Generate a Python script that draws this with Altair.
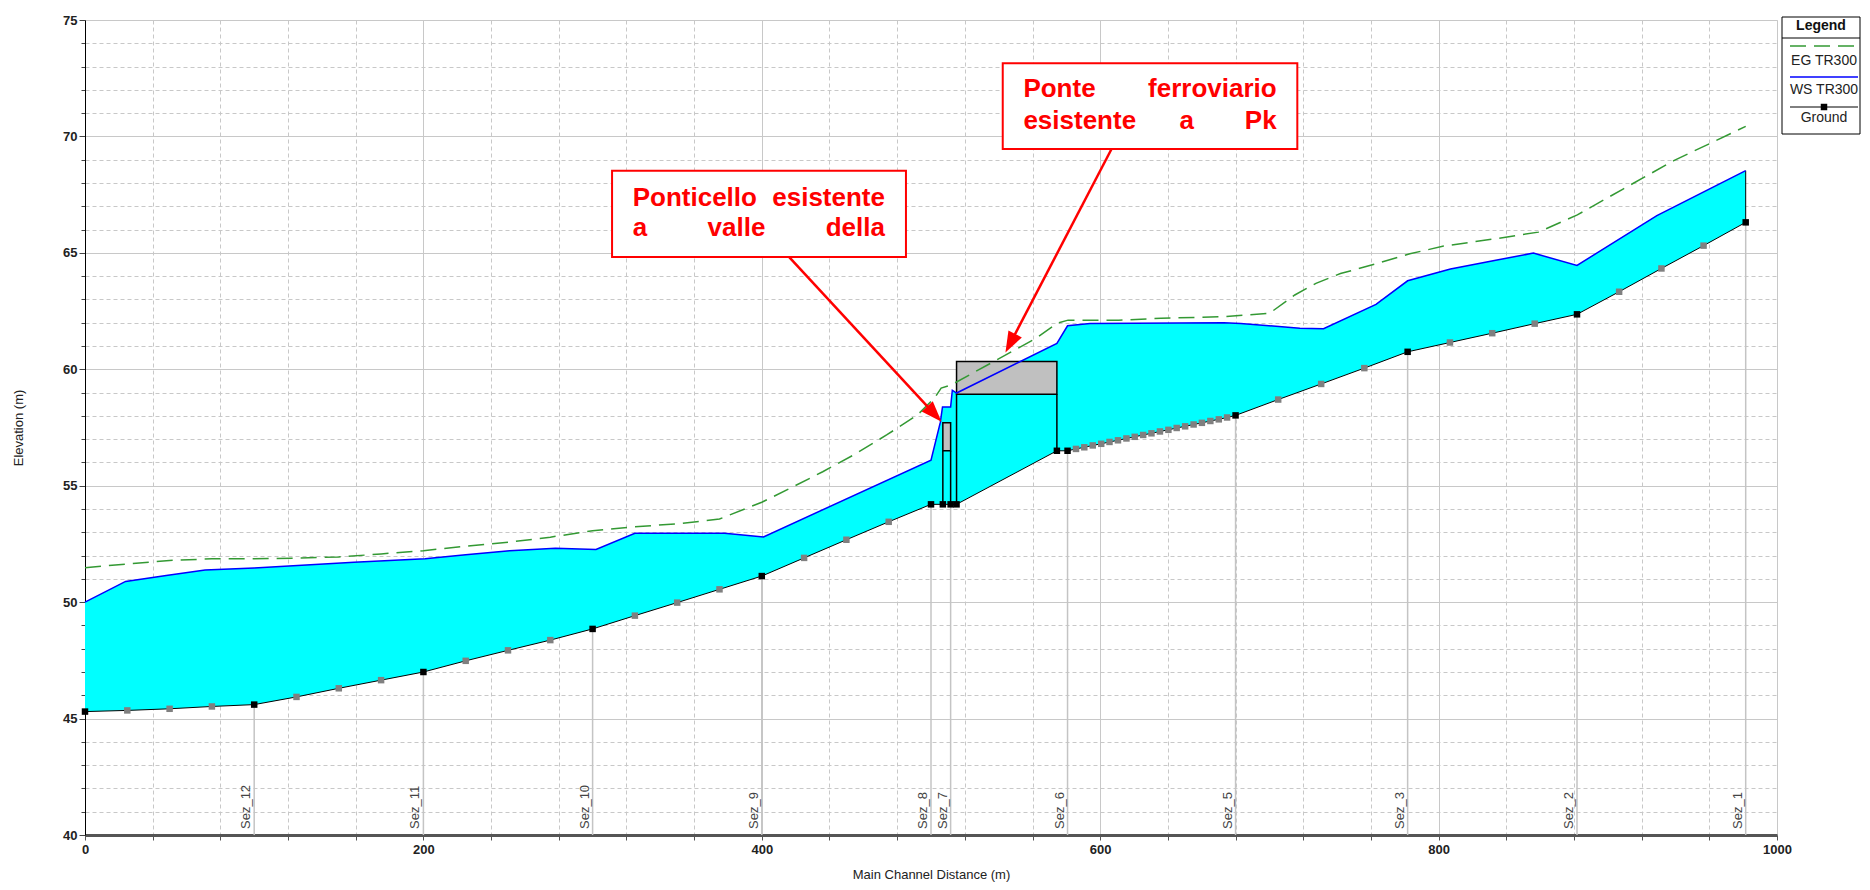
import math
import numpy as np
import pandas as pd
import altair as alt

# ---------------- data ----------------
# surveyed cross sections (black squares on the ground line)
sta_x = [0, 100, 200, 300, 400, 500, 507.0, 511.6, 515.1, 574.4, 580.7, 680, 781.7, 881.8, 981.5]
sta_z = [45.3, 45.6, 47.0, 48.85, 51.12, 54.2, 54.2, 54.2, 54.2, 56.5, 56.5, 58.02, 60.75, 62.36, 66.31]

# interpolated cross sections (grey squares)
int_x = [25, 50, 75, 125, 150, 175, 225, 250, 275, 325, 350, 375, 425, 450, 475,
         585.7, 590.6, 595.6, 600.6, 605.5, 610.5, 615.5, 620.4, 625.4, 630.3,
         635.3, 640.3, 645.2, 650.2, 655.2, 660.1, 665.1, 670.1, 675.0,
         705.2, 730.6, 756.1, 806.7, 831.7, 856.8, 906.7, 931.7, 956.6]
int_z = [45.35, 45.42, 45.52, 45.93, 46.3, 46.65, 47.48, 47.93, 48.37, 49.42, 49.98, 50.55,
         51.9, 52.68, 53.45,
         56.58, 56.65, 56.73, 56.8, 56.88, 56.95, 57.03, 57.1, 57.18, 57.25,
         57.33, 57.4, 57.48, 57.55, 57.63, 57.7, 57.78, 57.85, 57.93,
         58.7, 59.37, 60.05, 61.15, 61.55, 61.96, 63.33, 64.33, 65.31]

# water surface TR300
ws_x = [0, 24, 48, 71, 100, 159, 201, 225, 251, 278, 302, 325, 378, 401, 500, 505.5, 506.8,
        511.6, 512.6, 515.1, 574.4, 580.7, 594, 673, 683, 718, 732, 763, 781.7, 807, 833,
        856, 881.8, 929, 981.5]
ws_z = [50.0, 50.89, 51.14, 51.38, 51.47, 51.71, 51.86, 52.04, 52.21, 52.31, 52.26, 52.96,
        52.96, 52.8, 56.1, 57.72, 58.38, 58.38, 59.1, 58.98, 61.11, 61.87, 61.97, 62.0, 61.97,
        61.76, 61.74, 62.79, 63.8, 64.31, 64.67, 64.99, 64.46, 66.6, 68.53]

# energy grade line TR300
eg_x = [0, 25, 50, 75, 100, 125, 150, 175, 200, 225, 250, 275, 300, 325, 350, 375, 400, 417,
        436, 455, 474, 492, 502, 506, 512, 537, 562, 574.4, 581, 611, 636, 673, 700, 715,
        727.5, 742, 763, 783, 803, 833, 859, 882, 909, 939, 981.5]
eg_z = [51.48, 51.64, 51.79, 51.86, 51.86, 51.89, 51.94, 52.07, 52.21, 52.4, 52.57, 52.79,
        53.07, 53.24, 53.36, 53.57, 54.29, 54.9, 55.6, 56.35, 57.19, 58.04, 58.76, 59.19,
        59.33, 60.33, 61.33, 61.97, 62.11, 62.11, 62.19, 62.26, 62.4, 63.19, 63.69, 64.11,
        64.53, 64.96, 65.29, 65.6, 65.89, 66.63, 67.74, 68.96, 70.43]

# bridges: decks and piers
deck_x1 = [507.0, 515.1]
deck_x2 = [511.6, 574.4]
deck_lo = [56.5, 58.93]
deck_hi = [57.7, 60.33]
pier_x = [507.0, 511.6, 515.1, 574.4]
pier_bot = [54.2, 54.2, 54.2, 56.5]
pier_top = [56.5, 56.5, 58.93, 58.93]

# section labels
lab_x = [100, 200, 300, 400, 500, 511.6, 580.7, 680, 781.7, 881.8, 981.5]
lab_t = ["Sez_12", "Sez_11", "Sez_10", "Sez_9", "Sez_8", "Sez_7", "Sez_6", "Sez_5",
         "Sez_3", "Sez_2", "Sez_1"]

# annotation boxes
box_x1 = [311.5, 542.4]
box_x2 = [485.2, 716.5]
box_y1 = [64.82, 69.46]
box_y2 = [68.53, 73.14]
ann_words = ["Ponticello", "esistente", "a", "valle", "della",
             "Ponte", "ferroviario", "esistente", "a", "Pk"]
ann_wx = [323.7, 472.8, 323.7, 385.0, 472.8, 554.6, 704.3, 554.6, 651.1, 704.3]
ann_wy = [67.01, 67.01, 65.73, 65.73, 65.73, 71.71, 71.71, 70.31, 70.31, 70.31]
ann_align = ["left", "right", "left", "center", "right",
             "left", "right", "left", "center", "right"]
arr_x0 = [416.2, 606.7]
arr_y0 = [64.82, 69.46]
arr_x1 = [506.2, 544.0]
arr_y1 = [57.75, 60.72]

# ---------------- geometry / styles ----------------
W, H = 1692, 815
PX_X = W / 1000.0
PX_Y = H / 35.0
FONT = "Liberation Sans"
RED = "#ff0000"
GREEN = "#339933"

xscale = alt.Scale(domain=[0, 1000], nice=False, zero=False)
yscale = alt.Scale(domain=[40, 75], nice=False, zero=False)

xaxis = alt.Axis(
    title="Main Channel Distance (m)",
    values=list(range(0, 1001, 40)),
    format="d",
    labelExpr="datum.value % 200 === 0 ? datum.label : ''",
    labelFlush=False, labelOverlap=False, labelBound=False,
    grid=True, gridColor="#c8c8c8", gridWidth=1,
    gridDash={"condition": {"test": "datum.value % 200 === 0", "value": []}, "value": [4, 3]},
    domainColor="#555555", domainWidth=3,
    tickColor="#555555", tickSize=5, tickWidth=1,
    labelFont=FONT, labelFontSize=13, labelFontWeight="bold", labelColor="#222222", labelPadding=3,
    titleFont=FONT, titleFontSize=13, titleFontWeight="normal", titleColor="#222222",
    titleY=39, titleBaseline="middle",
)
yaxis = alt.Axis(
    title="Elevation (m)",
    values=list(range(40, 76)),
    format="d",
    labelExpr="datum.value % 5 === 0 ? datum.label : ''",
    labelOverlap=False, labelBound=False,
    grid=True, gridColor="#c8c8c8", gridWidth=1,
    gridDash={"condition": {"test": "datum.value % 5 === 0", "value": []}, "value": [4, 3]},
    domainColor="#000000", domainWidth=1,
    tickColor="#444444",
    tickSize={"condition": {"test": "datum.value % 5 === 0", "value": 6}, "value": 4},
    labelFont=FONT, labelFontSize=13, labelFontWeight="bold", labelColor="#222222", labelPadding=2,
    titleFont=FONT, titleFontSize=13, titleFontWeight="normal", titleColor="#222222",
    titleX=-67, titleY=H / 2, titleAngle=270, titleBaseline="middle", titleAlign="center",
)


def X(f):
    return alt.X(f, type="quantitative", scale=xscale, axis=xaxis)


def Y(f):
    return alt.Y(f, type="quantitative", scale=yscale, axis=yaxis)


# ---------------- tables ----------------
ground = pd.DataFrame({"x": sta_x + int_x, "z": sta_z + int_z}).sort_values("x")
stations = pd.DataFrame({"x": sta_x, "z": sta_z})
interp = pd.DataFrame({"x": int_x, "z": int_z})
ws = pd.DataFrame({"x": ws_x, "z": ws_z})
eg = pd.DataFrame({"x": eg_x, "z": eg_z})

fx = sorted(set(ws_x) | set(ground["x"].tolist()))
fill = pd.DataFrame({
    "x": fx,
    "lo": np.interp(fx, ground["x"].values, ground["z"].values),
    "hi": np.interp(fx, ws_x, ws_z),
})

decks = pd.DataFrame({"x": deck_x1, "x2": deck_x2, "lo": deck_lo, "hi": deck_hi})
piers = pd.DataFrame({"x": pier_x, "lo": pier_bot, "hi": pier_top})

zmap = dict(zip(sta_x, sta_z))
lab = pd.DataFrame({"x": lab_x, "t": lab_t, "g": [zmap[v] for v in lab_x],
                    "b": [40] * len(lab_x)})
lab["xl"] = lab["x"] - 0.6

end = pd.DataFrame({"x": [ws_x[-1]], "lo": [sta_z[-1]], "hi": [ws_z[-1]]})

boxes = pd.DataFrame({"x": box_x1, "x2": box_x2, "y": box_y1, "y2": box_y2})
words = pd.DataFrame({"x": ann_wx, "y": ann_wy, "t": ann_words, "a": ann_align})

rows = []
for x0, y0, x1, y1 in zip(arr_x0, arr_y0, arr_x1, arr_y1):
    dxp = (x1 - x0) * PX_X
    dyp = -(y1 - y0) * PX_Y
    L = math.hypot(dxp, dyp)
    ang = math.degrees(math.atan2(dxp, -dyp)) % 360
    back = 14.0
    ex = x1 - (dxp / L * back) / PX_X
    ey = y1 + (dyp / L * back) / PX_Y
    rows.append({"x0": x0, "y0": y0, "ex": ex, "ey": ey, "tx": x1, "ty": y1, "ang": ang})
arrows = pd.DataFrame(rows)

# ---------------- layers ----------------
layers = []

layers.append(alt.Chart(fill).mark_area(color="#00ffff", opacity=1).encode(
    x=X("x"), y=Y("lo"), y2="hi"))

layers.append(alt.Chart(lab).mark_rule(color="#c4c4c4", strokeWidth=1.5).encode(
    x=X("x"), y=Y("b"), y2="g"))

layers.append(alt.Chart(ground).mark_line(color="#000000", strokeWidth=1).encode(
    x=X("x"), y=Y("z"), order="x:Q"))

layers.append(alt.Chart(piers).mark_rule(color="#000000", strokeWidth=1.5).encode(
    x=X("x"), y=Y("lo"), y2="hi"))

layers.append(alt.Chart(end).mark_rule(color="#000000", strokeWidth=1).encode(
    x=X("x"), y=Y("lo"), y2="hi"))

layers.append(alt.Chart(decks).mark_rect(fill="#c0c0c0", stroke="#000000", strokeWidth=1.5).encode(
    x=X("x"), x2="x2", y=Y("lo"), y2="hi"))

layers.append(alt.Chart(ws).mark_line(color="#0000ff", strokeWidth=1.5).encode(
    x=X("x"), y=Y("z"), order="x:Q"))

layers.append(alt.Chart(eg).mark_line(color=GREEN, strokeWidth=1.5, strokeDash=[16, 8]).encode(
    x=X("x"), y=Y("z"), order="x:Q"))

layers.append(alt.Chart(interp).mark_point(shape="square", filled=True, color="#808080",
                                           size=42, opacity=1).encode(x=X("x"), y=Y("z")))
layers.append(alt.Chart(stations).mark_point(shape="square", filled=True, color="#000000",
                                             size=42, opacity=1).encode(x=X("x"), y=Y("z")))

layers.append(alt.Chart(lab).mark_text(angle=270, align="left", baseline="bottom", font=FONT,
                                       fontSize=13, color="#444444").encode(
    x=X("xl"), y=alt.value(H - 6), text="t"))

# annotations
layers.append(alt.Chart(boxes).mark_rect(fill="#ffffff", stroke=RED, strokeWidth=2).encode(
    x=X("x"), x2="x2", y=Y("y"), y2="y2"))
for a in ["left", "center", "right"]:
    layers.append(alt.Chart(words[words["a"] == a]).mark_text(
        align=a, baseline="alphabetic", font=FONT, fontSize=26, fontWeight="bold", color=RED).encode(
        x=X("x"), y=Y("y"), text="t"))
layers.append(alt.Chart(arrows).mark_rule(color=RED, strokeWidth=2.5).encode(
    x=X("x0"), y=Y("y0"), x2="ex", y2="ey"))
layers.append(alt.Chart(arrows).mark_point(shape="M0,0L-0.36,1L0.36,1Z", filled=True, color=RED,
                                           size=1764, opacity=1, strokeWidth=0).encode(
    x=X("tx"), y=Y("ty"), angle=alt.Angle("ang:Q", scale=None)))

# legend (outside the plot, pixel positions)
one = pd.DataFrame({"k": [0]})
LX1, LX2 = 1697, 1775
layers.append(alt.Chart(one).mark_rect(fill="#ffffff", stroke="#000000", strokeWidth=1).encode(
    x=alt.value(LX1), x2=alt.value(LX2), y=alt.value(-3), y2=alt.value(114)))
layers.append(alt.Chart(one).mark_rule(color="#000000", strokeWidth=1).encode(
    x=alt.value(LX1), x2=alt.value(LX2), y=alt.value(18)))
layers.append(alt.Chart(one).mark_text(text="Legend", font=FONT, fontSize=14, fontWeight="bold",
                                       color="#111111", baseline="middle").encode(
    x=alt.value((LX1 + LX2) / 2), y=alt.value(6)))
layers.append(alt.Chart(one).mark_rule(color=GREEN, strokeWidth=1.5, strokeDash=[16, 8]).encode(
    x=alt.value(LX1 + 8), x2=alt.value(LX2 - 2), y=alt.value(26)))
layers.append(alt.Chart(one).mark_rule(color="#0000ff", strokeWidth=1.5).encode(
    x=alt.value(LX1 + 8), x2=alt.value(LX2 - 2), y=alt.value(57)))
layers.append(alt.Chart(one).mark_rule(color="#000000", strokeWidth=1).encode(
    x=alt.value(LX1 + 8), x2=alt.value(LX2 - 2), y=alt.value(87)))
layers.append(alt.Chart(one).mark_point(shape="square", filled=True, color="#000000", size=42,
                                        opacity=1).encode(
    x=alt.value((LX1 + 8 + LX2 - 2) / 2), y=alt.value(87)))
for txt, yy in [("EG TR300", 41), ("WS TR300", 70), ("Ground", 98)]:
    layers.append(alt.Chart(one).mark_text(text=txt, font=FONT, fontSize=14, color="#222222",
                                           baseline="middle").encode(
        x=alt.value((LX1 + 8 + LX2 - 2) / 2), y=alt.value(yy)))

chart = alt.layer(*layers).properties(
    width=W, height=H,
    autosize=alt.AutoSizeParams(type="none"),
    padding={"left": 77, "top": 12, "right": 85, "bottom": 47},
).configure_view(stroke=None).configure(background="#ffffff")

chart.save("out.html", embed_options={"renderer": "svg", "actions": False})
